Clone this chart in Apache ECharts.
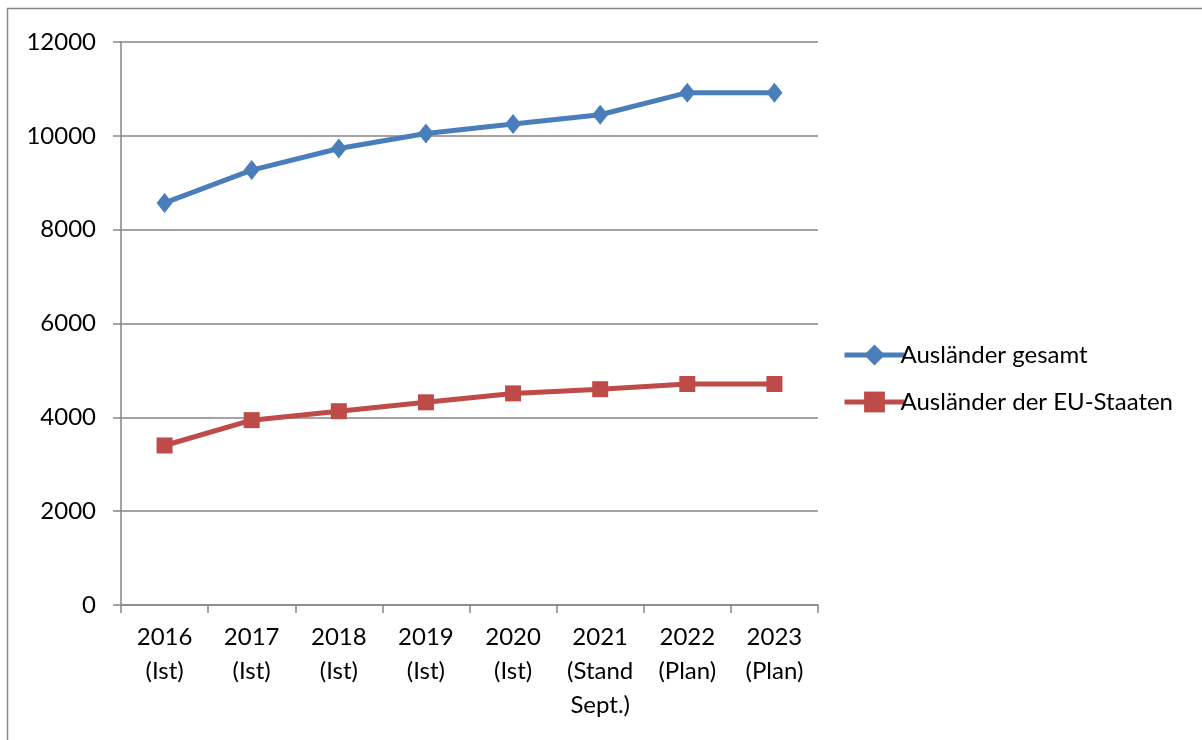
<!DOCTYPE html>
<html>
<head>
<meta charset="utf-8">
<script src="https://cdn.jsdelivr.net/npm/echarts@6/dist/echarts.min.js"></script>
<style>
html,body{margin:0;padding:0;background:#fff;}
#chart{width:1202px;height:740px;}
</style>
</head>
<body>
<div id="chart"></div>
<script>
const categories = ['2016\n(Ist)', '2017\n(Ist)', '2018\n(Ist)', '2019\n(Ist)', '2020\n(Ist)', '2021\n(Stand\nSept.)', '2022\n(Plan)', '2023\n(Plan)'];
const auslaenderGesamt = [8570, 9270, 9730, 10050, 10250, 10450, 10920, 10920];
const auslaenderEU = [3400, 3940, 4130, 4320, 4510, 4600, 4710, 4710];
const seriesNames = ['Ausländer gesamt', 'Ausländer der EU-Staaten'];

const FONT = 'Lato';
const GRAY = '#868686';
const chart = echarts.init(document.getElementById('chart'));
chart.setOption({
  animation: false,
  backgroundColor: '#fff',
  textStyle: { fontFamily: FONT },
  graphic: [{
    type: 'rect',
    shape: { x: 7.5, y: 8.5, width: 1210, height: 750 },
    style: { fill: 'none', stroke: GRAY, lineWidth: 1.5 },
    silent: true
  }],
  grid: { left: 121, right: 384, top: 42, bottom: 135, containLabel: false },
  legend: {
    orient: 'vertical',
    left: 837,
    top: 338,
    itemWidth: 60,
    itemHeight: 26,
    itemGap: 23,
    lineStyle: { width: 5 },
    textStyle: { fontSize: 24, color: '#000', fontFamily: FONT, padding: [0, 0, 0, -9] },
    data: seriesNames
  },
  xAxis: {
    type: 'category',
    data: categories,
    boundaryGap: true,
    axisLine: { lineStyle: { color: GRAY, width: 1.5 } },
    axisTick: { show: true, length: 8, alignWithLabel: false, lineStyle: { color: GRAY, width: 1.5 } },
    axisLabel: { color: '#000', fontSize: 24, fontFamily: FONT, lineHeight: 34, margin: 15, interval: 0 },
    splitLine: { show: false }
  },
  yAxis: {
    type: 'value',
    min: 0,
    max: 12000,
    interval: 2000,
    axisLine: { show: true, lineStyle: { color: GRAY, width: 1.5 } },
    axisTick: { show: true, length: 8, lineStyle: { color: GRAY, width: 1.5 } },
    axisLabel: { color: '#000', fontSize: 24, fontFamily: FONT, margin: 25, formatter: v => String(v) },
    splitLine: { show: true, lineStyle: { color: GRAY, width: 1.5 } }
  },
  series: [
    {
      name: seriesNames[0],
      type: 'line',
      data: auslaenderGesamt,
      symbol: 'diamond',
      symbolSize: [16, 20],
      lineStyle: { color: '#4A7EBB', width: 5 },
      itemStyle: { color: '#4A7EBB' }
    },
    {
      name: seriesNames[1],
      type: 'line',
      data: auslaenderEU,
      symbol: 'rect',
      symbolSize: 16,
      lineStyle: { color: '#BE4B48', width: 5 },
      itemStyle: { color: '#BE4B48' }
    }
  ]
});
</script>
</body>
</html>
